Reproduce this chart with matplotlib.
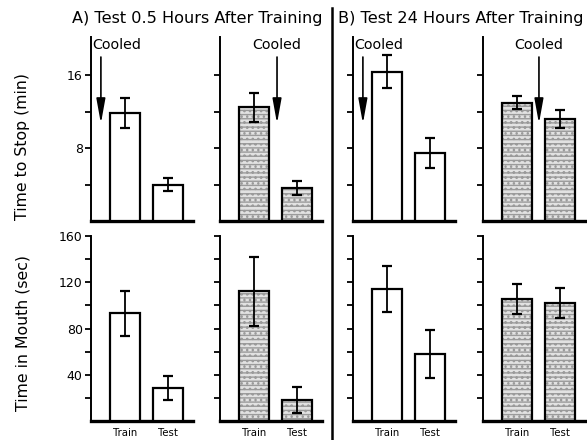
import matplotlib.pyplot as plt

# ==========================================
# DATA (group means +/- SEM)
# ==========================================
GROUPS = ["A-control", "A-cooled", "B-control", "B-cooled"]
CONDITIONS = ["Train", "Test"]

stop_train = [11.9, 12.5, 16.4, 13.0]
stop_train_err = [1.65, 1.6, 1.85, 0.75]
stop_test = [4.0, 3.6, 7.5, 11.2]
stop_test_err = [0.75, 0.8, 1.65, 1.0]

mouth_train = [93, 112, 114, 105.5]
mouth_train_err = [19.5, 29.5, 20, 12.8]
mouth_test = [28.5, 18, 58, 102]
mouth_test_err = [10, 11, 21, 13]

# which panels got the shaded (textured) bars
shaded = [False, True, False, True]
# x position of the "Cooled" arrow in each column (bar units)
cooled_x = [-0.56, 0.535, -0.56, 0.51]
cooled_align = ["left", "center", "left", "center"]

TITLES = ["A) Test 0.5 Hours After Training", "B) Test 24 Hours After Training"]

plt.rcParams['font.family'] = ['DejaVu Sans']

# ==========================================
# LAYOUT
# ==========================================
W, H = 587, 440
fig = plt.figure(figsize=(W / 100, H / 100), dpi=100)

col_left = [91, 220, 353, 483]
ax_w = 102
row_box = [(37, 221), (236, 421)]   # (top, bottom) in pixels


def make_ax(col, row):
    top, bot = row_box[row]
    return fig.add_axes([col_left[col] / W, 1 - bot / H, ax_w / W, (bot - top) / H])


def draw_bars(ax, vals, errs, textured):
    xs = [0, 1]
    if textured:
        ax.bar(xs, vals, width=0.7, color='#e2e2e2', hatch='----...',
               edgecolor='#9a9a9a', linewidth=0, zorder=2)
    ax.bar(xs, vals, width=0.7, facecolor='none' if textured else 'white',
           edgecolor='black', linewidth=1.6, zorder=3)
    ax.errorbar(xs, vals, yerr=errs, fmt='none', ecolor='black',
                elinewidth=1.3, capsize=3.5, capthick=1.6, zorder=4)


def style_ax(ax, ylim, yticks, labels):
    ax.set_xlim(-0.79, 1.58)
    ax.set_ylim(*ylim)
    for s in ['top', 'right']:
        ax.spines[s].set_visible(False)
    ax.spines['left'].set_linewidth(1.4)
    ax.spines['bottom'].set_linewidth(2.4)
    ax.set_yticks(yticks)
    ax.set_yticklabels(labels, fontsize=9)
    ax.tick_params(axis='y', direction='out', length=4, width=1.3, pad=2)
    ax.set_xticks([])
    ax.patch.set_alpha(0)


for i in range(4):
    # top row: time to stop
    ax = make_ax(i, 0)
    draw_bars(ax, [stop_train[i], stop_test[i]],
              [stop_train_err[i], stop_test_err[i]], shaded[i])
    tick_labels = ['', '8', '', '16'] if i == 0 else [''] * 4
    style_ax(ax, (0, 20.2), [4, 8, 12, 16], tick_labels)

    ax.annotate('', xy=(cooled_x[i], 10.7), xytext=(cooled_x[i], 18.0),
                arrowprops=dict(arrowstyle='-|>,head_length=1.5,head_width=0.27',
                                color='black', lw=1.2, shrinkA=0, shrinkB=0),
                annotation_clip=False, zorder=5)
    tx = -0.76 if cooled_align[i] == 'left' else cooled_x[i]
    ax.text(tx, 19.3, 'Cooled', ha=cooled_align[i], va='center',
            fontsize=10.3, clip_on=False)

    # bottom row: time in mouth
    ax = make_ax(i, 1)
    draw_bars(ax, [mouth_train[i], mouth_test[i]],
              [mouth_train_err[i], mouth_test_err[i]], shaded[i])
    ticks = [20, 40, 60, 80, 100, 120, 140, 160]
    tick_labels = ['', '40', '', '80', '', '120', '', '160'] if i == 0 else [''] * 8
    style_ax(ax, (0, 160), ticks, tick_labels)
    for x, name in zip([0, 1], CONDITIONS):
        ax.text(x, -10, name, ha='center', va='center', fontsize=7.3, clip_on=False)

# panel headers and the A/B divider
fig.text(197 / W, 1 - 18 / H, TITLES[0], ha='center', va='center', fontsize=11.6)
fig.text(461 / W, 1 - 18 / H, TITLES[1], ha='center', va='center', fontsize=11.6)
fig.add_artist(plt.Line2D([332 / W, 332 / W], [1 - 8 / H, 0], color='black', lw=1.8))

fig.text(23 / W, 1 - 147 / H, 'Time to Stop (min)', rotation=90,
         ha='center', va='center', fontsize=11.3)
fig.text(23 / W, 1 - 333 / H, 'Time in Mouth (sec)', rotation=90,
         ha='center', va='center', fontsize=11.3)

fig.savefig('out.png', dpi=100)
